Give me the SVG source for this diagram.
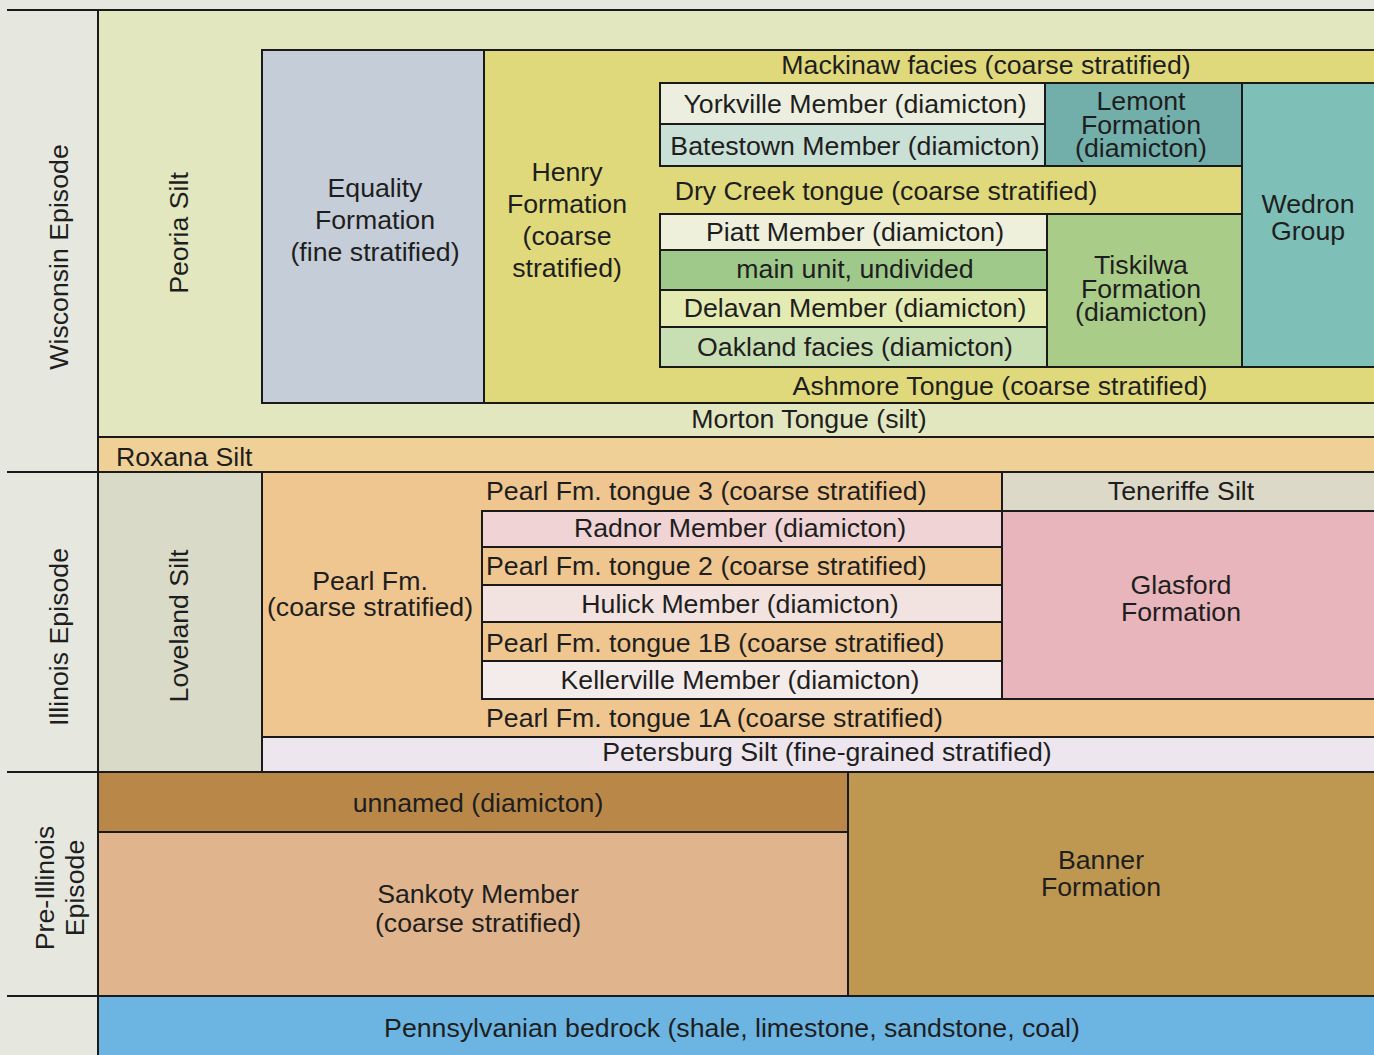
<svg xmlns="http://www.w3.org/2000/svg" width="1374" height="1055" viewBox="0 0 1374 1055">
<style>
text{font-family:"Liberation Sans",Arial,sans-serif;font-size:26.7px;fill:#1e1e1e;text-anchor:middle}
.l{text-anchor:start}
.b{stroke:#1a1a1a;stroke-width:2}
.ln{stroke:#1a1a1a;stroke-width:2;fill:none}
</style>
<rect x="0" y="0" width="1374" height="1055" fill="#e6e8e0"/>
<g id="peoria"><rect class="b" x="98" y="10" width="1290" height="427" fill="#e2e7c0"/><text transform="translate(188,233) rotate(-90)">Peoria Silt</text></g>
<g id="equality"><rect class="b" x="262" y="50" width="222" height="353" fill="#c5cdd8"/><text x="375" y="197">Equality</text><text x="375" y="229">Formation</text><text x="375" y="261">(fine stratified)</text></g>
<g id="henry"><rect class="b" x="484" y="50" width="904" height="353" fill="#e0d97b"/><text x="567" y="181">Henry</text><text x="567" y="213">Formation</text><text x="567" y="245">(coarse</text><text x="567" y="277">stratified)</text></g>
<g id="mackinaw"><text x="986" y="74">Mackinaw facies (coarse stratified)</text></g>
<g id="yorkville"><rect class="b" x="660" y="83" width="385" height="41" fill="#ecefdf"/><text x="855" y="113">Yorkville Member (diamicton)</text></g>
<g id="batestown"><rect class="b" x="660" y="124" width="385" height="42" fill="#c9e0d6"/><text x="855" y="155">Batestown Member (diamicton)</text></g>
<g id="lemont"><rect class="b" x="1045" y="83" width="197" height="83" fill="#72aeaa"/><text x="1141" y="110">Lemont<tspan x="1141" dy="24">Formation</tspan><tspan x="1141" dy="23">(diamicton)</tspan></text></g>
<g id="wedron"><rect class="b" x="1242" y="83" width="146" height="284" fill="#7ebfb8"/><text x="1308" y="213">Wedron</text><text x="1308" y="240">Group</text></g>
<g id="drycreek"><text x="886" y="200">Dry Creek tongue (coarse stratified)</text></g>
<g id="piatt"><rect class="b" x="660" y="214" width="387" height="36" fill="#eef0dc"/><text x="855" y="241">Piatt Member (diamicton)</text></g>
<g id="mainunit"><rect class="b" x="660" y="250" width="387" height="40" fill="#9fc98b"/><text x="855" y="278">main unit, undivided</text></g>
<g id="delavan"><rect class="b" x="660" y="290" width="387" height="37" fill="#e3ebb2"/><text x="855" y="317">Delavan Member (diamicton)</text></g>
<g id="oakland"><rect class="b" x="660" y="327" width="387" height="40" fill="#c8dfb4"/><text x="855" y="356">Oakland facies (diamicton)</text></g>
<g id="tiskilwa"><rect class="b" x="1047" y="214" width="195" height="153" fill="#a9cc89"/><text x="1141" y="274">Tiskilwa<tspan x="1141" dy="24">Formation</tspan><tspan x="1141" dy="23">(diamicton)</tspan></text></g>
<g id="ashmore"><text x="1000" y="395">Ashmore Tongue (coarse stratified)</text></g>
<g id="morton"><text x="809" y="428">Morton Tongue (silt)</text></g>
<g id="roxana"><rect class="b" x="98" y="437" width="1290" height="35" fill="#efd097"/><text class="l" x="116" y="466">Roxana Silt</text></g>
<g id="loveland"><rect class="b" x="98" y="472" width="164" height="300" fill="#d9dac8"/><text transform="translate(188,626) rotate(-90)">Loveland Silt</text></g>
<g id="pearl"><rect class="b" x="262" y="472" width="1126" height="265" fill="#efc68f"/><text x="370" y="590">Pearl Fm.</text><text x="370" y="616">(coarse stratified)</text></g>
<g id="tongue3"><text class="l" x="486" y="500">Pearl Fm. tongue 3 (coarse stratified)</text></g>
<g id="teneriffe"><rect class="b" x="1002" y="472" width="386" height="39" fill="#ddd9c9"/><text x="1181" y="500">Teneriffe Silt</text></g>
<g id="glasford"><rect class="b" x="1002" y="511" width="386" height="188" fill="#e8b5bc"/><text x="1181" y="594">Glasford</text><text x="1181" y="621">Formation</text></g>
<g id="radnor"><rect class="b" x="482" y="511" width="520" height="36" fill="#f0d3d4"/><text x="740" y="537">Radnor Member (diamicton)</text></g>
<g id="tongue2"><rect class="b" x="482" y="547" width="520" height="38" fill="#efc68f"/><text class="l" x="486" y="575">Pearl Fm. tongue 2 (coarse stratified)</text></g>
<g id="hulick"><rect class="b" x="482" y="585" width="520" height="37" fill="#f2e3e0"/><text x="740" y="613">Hulick Member (diamicton)</text></g>
<g id="tongue1b"><rect class="b" x="482" y="622" width="520" height="39" fill="#efc68f"/><text class="l" x="486" y="652">Pearl Fm. tongue 1B (coarse stratified)</text></g>
<g id="kellerville"><rect class="b" x="482" y="661" width="520" height="38" fill="#f4ecea"/><text x="740" y="689">Kellerville Member (diamicton)</text></g>
<g id="tongue1a"><text class="l" x="486" y="727">Pearl Fm. tongue 1A (coarse stratified)</text></g>
<g id="petersburg"><rect class="b" x="262" y="737" width="1126" height="35" fill="#ede6ee"/><text x="827" y="761">Petersburg Silt (fine-grained stratified)</text></g>
<g id="unnamed"><rect class="b" x="98" y="772" width="750" height="60" fill="#b98849"/><text x="478" y="812">unnamed (diamicton)</text></g>
<g id="sankoty"><rect class="b" x="98" y="832" width="750" height="164" fill="#e0b58d"/><text x="478" y="903">Sankoty Member</text><text x="478" y="932">(coarse stratified)</text></g>
<g id="banner"><rect class="b" x="848" y="772" width="540" height="224" fill="#be9751"/><text x="1101" y="869">Banner</text><text x="1101" y="896">Formation</text></g>
<g id="bedrock"><rect class="b" x="98" y="996" width="1290" height="70" fill="#6cb5e2"/><text x="732" y="1037">Pennsylvanian bedrock (shale, limestone, sandstone, coal)</text></g>
<g id="episodes">
<text transform="translate(68,257) rotate(-90)">Wisconsin Episode</text>
<text transform="translate(68,637) rotate(-90)">Illinois Episode</text>
<text transform="translate(54,888) rotate(-90)">Pre-Illinois</text>
<text transform="translate(84,888) rotate(-90)">Episode</text>
</g>
<g id="connectors">
<line class="ln" x1="7" y1="10" x2="1374" y2="10"/>
<line class="ln" x1="98" y1="10" x2="98" y2="1055"/>
<line class="ln" x1="7" y1="472" x2="98" y2="472"/>
<line class="ln" x1="7" y1="772" x2="98" y2="772"/>
<line class="ln" x1="7" y1="996" x2="98" y2="996"/>
</g>
</svg>
